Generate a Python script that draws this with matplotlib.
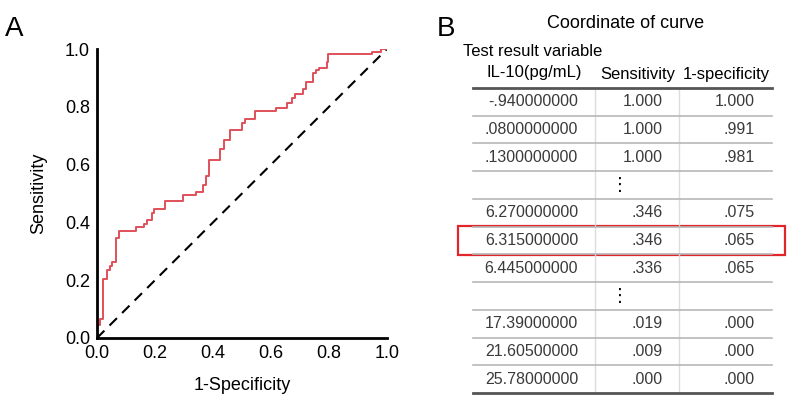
import matplotlib

matplotlib.use("Agg")
import matplotlib.pyplot as plt
from matplotlib.patches import Rectangle

plt.rcParams["font.family"] = ["Liberation Sans", "DejaVu Sans"]

# ROC curve corners (1-specificity, sensitivity)
fpr = [0.0, 0.0, 0.010, 0.010, 0.020, 0.020, 0.035, 0.035, 0.045, 0.045,
       0.050, 0.050, 0.065, 0.065, 0.075, 0.075, 0.133, 0.133, 0.162, 0.162,
       0.174, 0.174, 0.190, 0.190, 0.196, 0.196, 0.234, 0.234, 0.295, 0.295,
       0.341, 0.341, 0.364, 0.364, 0.375, 0.375, 0.386, 0.386, 0.424, 0.424,
       0.438, 0.438, 0.459, 0.459, 0.499, 0.499, 0.510, 0.510, 0.544, 0.544,
       0.617, 0.617, 0.654, 0.654, 0.671, 0.671, 0.683, 0.683, 0.711, 0.711,
       0.720, 0.720, 0.745, 0.745, 0.755, 0.755, 0.766, 0.766, 0.792, 0.792,
       0.797, 0.797, 0.947, 0.947, 0.978, 0.978, 1.0]
tpr = [0.0, 0.045, 0.045, 0.066, 0.066, 0.204, 0.204, 0.235, 0.235, 0.250,
       0.250, 0.263, 0.263, 0.346, 0.346, 0.371, 0.371, 0.384, 0.384, 0.394,
       0.394, 0.408, 0.408, 0.431, 0.431, 0.447, 0.447, 0.475, 0.475, 0.495,
       0.495, 0.505, 0.505, 0.529, 0.529, 0.560, 0.560, 0.616, 0.616, 0.653,
       0.653, 0.685, 0.685, 0.720, 0.720, 0.745, 0.745, 0.757, 0.757, 0.787,
       0.787, 0.795, 0.795, 0.812, 0.812, 0.829, 0.829, 0.844, 0.844, 0.860,
       0.860, 0.887, 0.887, 0.916, 0.916, 0.927, 0.927, 0.935, 0.935, 0.956,
       0.956, 0.981, 0.981, 0.991, 0.991, 1.0, 1.0]

# table "Coordinate of curve" (None = ellipsis row)
cutoffs = ["-.940000000", ".0800000000", ".1300000000", None,
           "6.270000000", "6.315000000", "6.445000000", None,
           "17.39000000", "21.60500000", "25.78000000"]
sens = ["1.000", "1.000", "1.000", None, ".346", ".346", ".336", None,
        ".019", ".009", ".000"]
one_minus_spec = ["1.000", ".991", ".981", None, ".075", ".065", ".065", None,
                  ".000", ".000", ".000"]
highlight_row = 5

W, H = 787, 397
fig = plt.figure(figsize=(W / 100, H / 100), dpi=100)

# ---- panel A: ROC curve ----
ax = fig.add_axes([97 / W, 59 / H, 290 / W, 289 / H])
ax.plot([0, 1], [0, 1], color="black", lw=1.5, ls=(0, (5, 3.5)))
ax.plot(fpr, tpr, color="#e0505a", lw=1.4)
ax.set_xlim(0, 1)
ax.set_ylim(0, 1)
ax.set_xticks([0, 0.2, 0.4, 0.6, 0.8, 1.0])
ax.set_yticks([0, 0.2, 0.4, 0.6, 0.8, 1.0])
ax.set_xticklabels(["0.0", "0.2", "0.4", "0.6", "0.8", "1.0"])
ax.set_yticklabels(["0.0", "0.2", "0.4", "0.6", "0.8", "1.0"])
ax.tick_params(length=0, labelsize=13, pad=5)
for s in ["top", "right"]:
    ax.spines[s].set_visible(False)
for s in ["left", "bottom"]:
    ax.spines[s].set_linewidth(2)
ax.set_xlabel("1-Specificity", fontsize=13, labelpad=11)
ax.set_ylabel("Sensitivity", fontsize=13, labelpad=13)
for lab in ax.get_xticklabels() + ax.get_yticklabels():
    lab.set_clip_on(False)

fig.text(5 / W, 1 - 36 / H, "A", fontsize=20)
fig.text(437 / W, 1 - 36 / H, "B", fontsize=20)

# ---- panel B: table, drawn in pixel coords ----
tb = fig.add_axes([0, 0, 1, 1])
tb.set_xlim(0, W)
tb.set_ylim(H, 0)
tb.axis("off")
tb.patch.set_alpha(0)

x0, x1 = 473, 772
sep1, sep2 = 595, 679
top, bottom = 88, 393
nrows = len(cutoffs)
rh = (bottom - top) / nrows

tb.text(626, 24, "Coordinate of curve", fontsize=13, ha="center", va="center")
tb.text(463, 52, "Test result variable", fontsize=12, ha="left", va="center")
tb.text(534, 72, "IL-10(pg/mL)", fontsize=12, ha="center", va="center")
tb.text(638, 74, "Sensitivity", fontsize=12, ha="center", va="center")
tb.text(726, 74, "1-specificity", fontsize=12, ha="center", va="center")

for i in range(nrows):
    y0 = top + i * rh
    yc = y0 + rh / 2
    tb.plot([sep1, sep1], [y0, y0 + rh], color="#dcdcdc", lw=1)
    tb.plot([sep2, sep2], [y0, y0 + rh], color="#dcdcdc", lw=1)
    if i > 0:
        tb.plot([x0, x1], [y0, y0], color="#b8b8b8", lw=1.2)
    if cutoffs[i] is None:
        tb.text(620, yc, "\u22ee", fontsize=13, ha="center", va="center",
                color="black", family="DejaVu Sans")
        continue
    tb.text(578, yc, cutoffs[i], fontsize=11.5, ha="right", va="center", color="#3a3a3a")
    tb.text(663, yc, sens[i], fontsize=11.5, ha="right", va="center", color="#3a3a3a")
    tb.text(755, yc, one_minus_spec[i], fontsize=11.5, ha="right", va="center", color="#3a3a3a")

tb.plot([x0, x1], [top, top], color="#555555", lw=2)
tb.plot([x0, x1], [bottom, bottom], color="#555555", lw=2)

hy = top + highlight_row * rh
tb.add_patch(Rectangle((458, hy - 1), 327, rh + 2, fill=False,
                       edgecolor="#e0262b", lw=1.6))

fig.savefig("out.png", dpi=100)
